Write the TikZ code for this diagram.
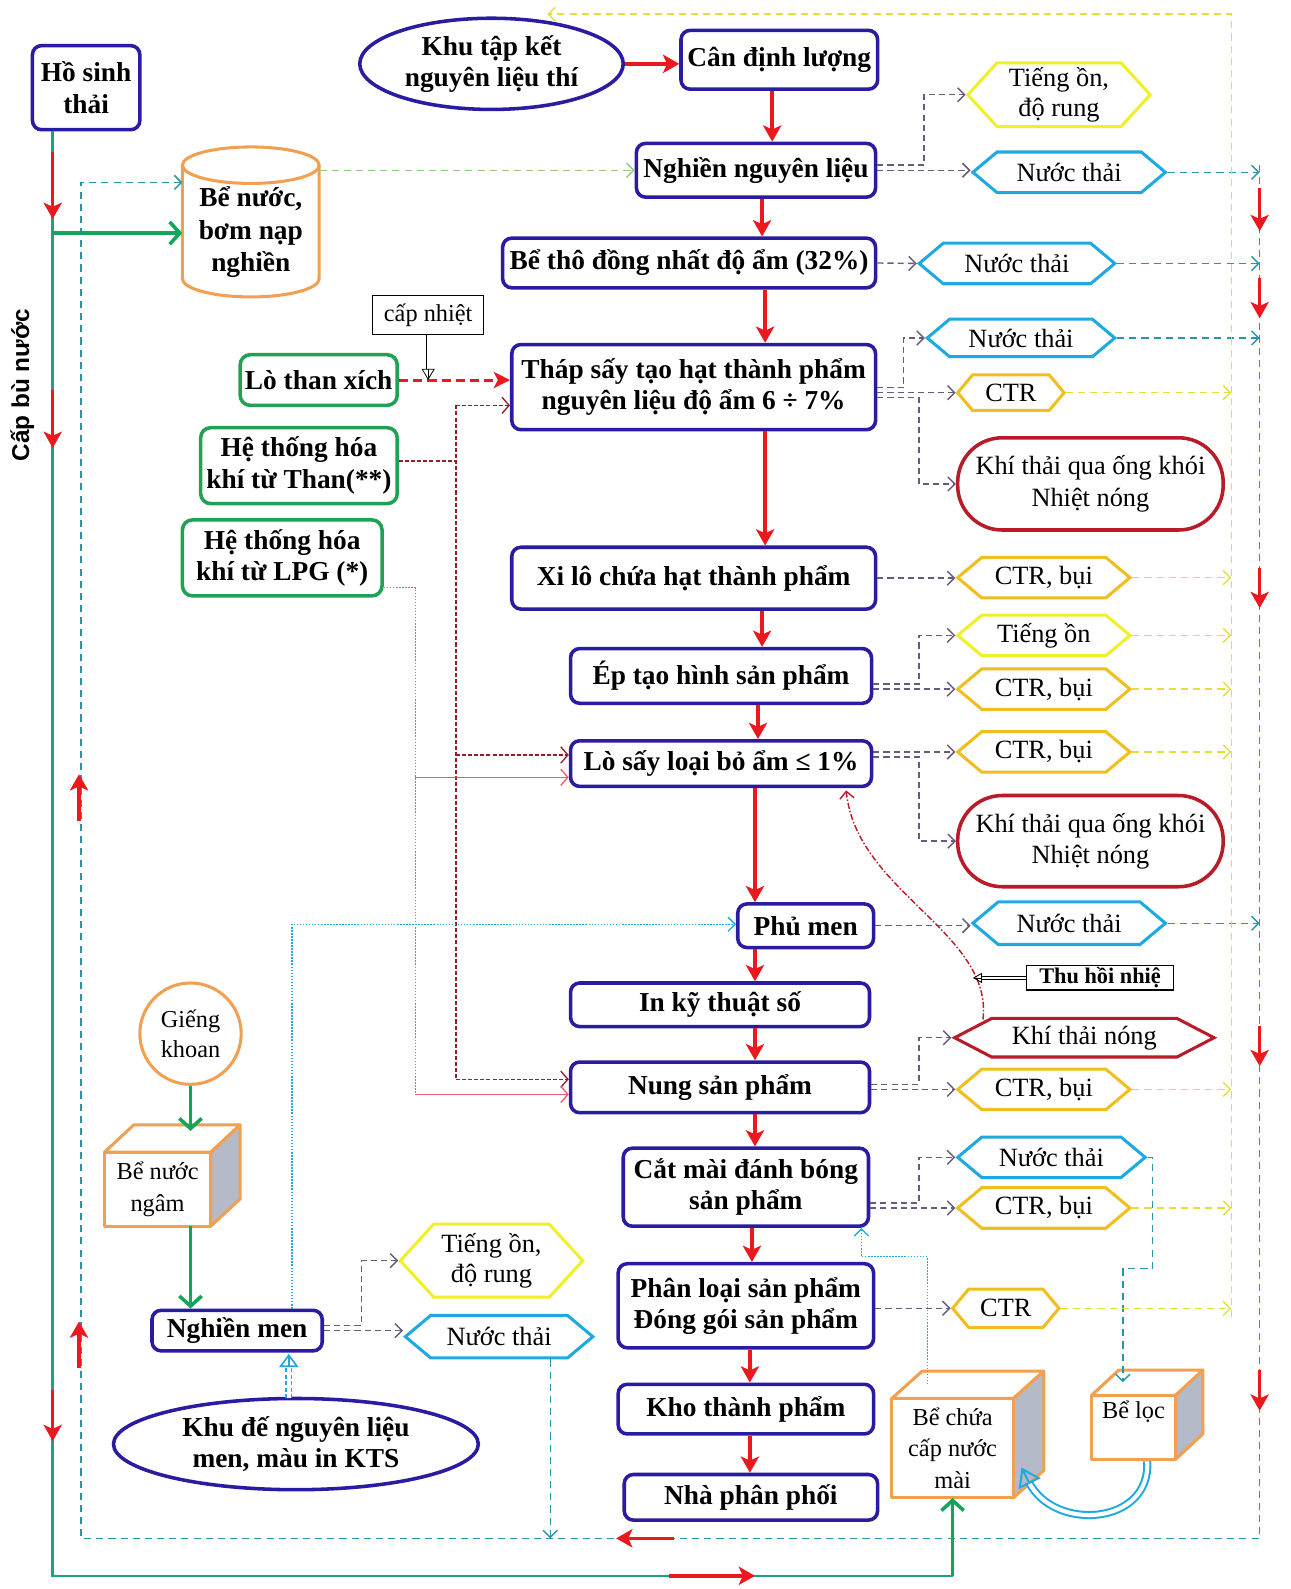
\documentclass[tikz,border=0pt]{standalone}
\usepackage{fontspec}
\setmainfont{Liberation Serif}
\setsansfont{Liberation Sans}
\usetikzlibrary{shapes.geometric,shapes.symbols,arrows.meta,calc}
\definecolor{nav}{RGB}{42,28,160}
\definecolor{grn}{RGB}{34,160,84}
\definecolor{cteal}{RGB}{30,160,130}
\definecolor{garrc}{RGB}{20,165,90}
\definecolor{org}{RGB}{240,160,80}
\definecolor{yel}{RGB}{240,240,40}
\definecolor{ctrc}{RGB}{240,190,30}
\definecolor{cya}{RGB}{30,170,225}
\definecolor{dred}{RGB}{185,28,40}
\definecolor{rred}{RGB}{235,25,30}
\definecolor{gpur}{RGB}{105,90,125}
\definecolor{ydash}{RGB}{225,225,60}
\definecolor{cdash}{RGB}{40,150,170}
\definecolor{lgreen}{RGB}{150,200,130}
\definecolor{sidegray}{RGB}{180,186,200}
\definecolor{pinkc}{RGB}{235,90,110}
\definecolor{darkr}{RGB}{150,30,40}
\newcommand\cubeshape[6]{%
  \draw[cubeline] (#1,#2) -- ($(#1,#2)+(#5,#6)$) -- ($(#3,#2)+(#5,#6)$) -- (#3,#2) -- cycle;
  \draw[cubeline, fill=sidegray] (#3,#2) -- ($(#3,#2)+(#5,#6)$) -- ($(#3,#4)+(#5,#6)$) -- (#3,#4) -- cycle;
  \draw[cubeline] (#1,#2) rectangle (#3,#4);
}
\begin{document}
\begin{tikzpicture}[x=1pt,y=-1pt,
 mbox/.style={draw=nav, line width=3.5pt, rounded corners=9pt, fill=white, align=center, inner sep=1pt, font=\fontsize{27}{31}\selectfont\bfseries},
 gbox/.style={draw=grn, line width=3.5pt, rounded corners=10pt, fill=white, align=center, inner sep=1pt, font=\fontsize{27}{31}\selectfont\bfseries},
 hexa/.style={signal, signal to=east and west, signal pointer angle=80, line width=3pt, fill=white, align=center, inner sep=1pt, font=\fontsize{26}{29}\selectfont},
 yhex/.style={hexa, draw=yel},
 chex/.style={hexa, draw=cya},
 ohex/.style={hexa, draw=ctrc},
 rhex/.style={hexa, draw=dred},
 stad/.style={draw=dred, line width=3.5pt, rounded corners=44pt, fill=white, align=center, font=\fontsize{26}{31}\selectfont},
 cubeline/.style={draw=org, line width=3pt, fill=white, line join=round},
 plain/.style={align=center, inner sep=0pt, font=\fontsize{24}{31}\selectfont},
 rarr/.style={draw=rred, line width=3.5pt, -{Stealth[length=16pt,width=18pt,inset=4pt]}},
 gd/.style={draw=gpur, line width=1.4pt, dash pattern=on 6pt off 4pt, -{Straight Barb[length=7pt,width=14pt]}},
 cdl/.style={draw=cdash, line width=1.4pt, dash pattern=on 7pt off 5pt},
 cd/.style={cdl, -{Straight Barb[length=7pt,width=14pt]}},
 ydl/.style={draw=ydash, line width=1.4pt, dash pattern=on 7pt off 5pt},
 yd/.style={ydl, -{Straight Barb[length=7pt,width=14pt]}},
 gline/.style={draw=cteal, line width=2.5pt},
 garr/.style={draw=garrc, line width=3.5pt, -{Straight Barb[length=10pt,width=22pt]}},
 drl/.style={draw=darkr, line width=1.3pt, dash pattern=on 4pt off 2pt},
 dra/.style={drl, -{Straight Barb[length=7pt,width=16pt]}},
 pdl/.style={draw=pinkc, line width=1.3pt, dash pattern=on 1.5pt off 1.5pt},
 pda/.style={draw=pinkc, line width=1.3pt, -{Straight Barb[length=7pt,width=16pt]}},
 cdot/.style={draw=cya, line width=1.3pt, dash pattern=on 1.5pt off 1.5pt},
 cdota/.style={cdot, -{Straight Barb[length=7pt,width=14pt]}},
]
\fill[white] (0,0) rectangle (1273,1568);
\useasboundingbox (0,0) rectangle (1273,1568);

% ---------- main column ----------
\node[mbox, ellipse, minimum width=260, minimum height=90] (khu) at (485,63) {Khu tập kết\\nguyên liệu thí};
\node[mbox, minimum width=194, minimum height=58] (cdl) at (769,59) {Cân định lượng};
\node[mbox, minimum width=236, minimum height=53] (ngl) at (746,168) {Nghiền nguyên liệu};
\node[mbox, minimum width=368, minimum height=49] (bth) at (680,259.5) {Bể thô đồng nhất độ ẩm (32\%)};
\node[mbox, minimum width=359, minimum height=84] (thap) at (684.5,382) {Tháp sấy tạo hạt thành phẩm\\nguyên liệu độ ẩm 6 ÷ 7\%};
\node[mbox, minimum width=359, minimum height=61] (xilo) at (684.5,570.5) {Xi lô chứa hạt thành phẩm};
\node[mbox, minimum width=297, minimum height=54] (ep) at (711.5,667) {Ép tạo hình sản phẩm};
\node[mbox, minimum width=297, minimum height=45] (losay) at (711.5,753.5) {Lò sấy loại bỏ ẩm ≤ 1\%};
\node[mbox, minimum width=134, minimum height=43] (phu) at (795,913.5) {Phủ men};
\node[mbox, minimum width=295, minimum height=43] (inkts) at (710.5,991.5) {In kỹ thuật số};
\node[mbox, minimum width=295, minimum height=50] (nung) at (710.5,1073) {Nung sản phẩm};
\node[mbox, minimum width=242, minimum height=77] (cat) at (736,1171.5) {Cắt mài đánh bóng\\sản phẩm};
\node[mbox, minimum width=252, minimum height=83] (phan) at (736,1288.5) {Phân loại sản phẩm\\Đóng gói sản phẩm};
\node[mbox, minimum width=252, minimum height=49] (kho) at (736,1390.5) {Kho thành phẩm};
\node[mbox, minimum width=250, minimum height=45] (nha) at (741,1477.5) {Nhà phân phối};

% ---------- left side ----------
\node[mbox, minimum width=106, minimum height=83] (hosinh) at (85,86.5) {Hồ sinh\\thải};
\draw[org, line width=3pt, fill=white] (180,163) -- (180,275) arc[start angle=180, end angle=0, x radius=67.5, y radius=18] -- (315,163) arc[start angle=0, end angle=-180, x radius=67.5, y radius=18] -- cycle;
\draw[org, line width=3pt] (180,163) arc[start angle=180, end angle=0, x radius=67.5, y radius=18];
\node[plain, font=\fontsize{27}{32}\selectfont\bfseries, minimum width=135, minimum height=112] (bnb) at (247.5,229) {Bể nước,\\bơm nạp\\nghiền};
\node[rotate=90, font=\sffamily\bfseries\fontsize{24}{28}\selectfont] (capbu) at (22,380) {Cấp bù nước};

\node[gbox, minimum width=155, minimum height=50] (lothan) at (314.5,375) {Lò than xích};
\node[gbox, minimum width=194, minimum height=75] (than) at (295,459.5) {Hệ thống hóa\\khí từ Than(**)};
\node[gbox, minimum width=197, minimum height=75] (lpg) at (278.5,550.5) {Hệ thống hóa\\khí từ LPG (*)};
\node[draw=black, line width=1pt, fill=white, minimum width=109, minimum height=38, inner sep=1pt, font=\fontsize{24}{28}\selectfont] (capn) at (422.5,311) {cấp nhiệt};

\node[circle, draw=org, line width=3pt, fill=white, minimum size=100, align=center, inner sep=0pt, font=\fontsize{24}{30}\selectfont] (gk) at (188,1020) {Giếng\\khoan};
\cubeshape{103}{1137}{208}{1210}{29}{-27}
\node[plain, minimum width=105, minimum height=73] (bnn) at (155.5,1173.5) {Bể nước\\ngâm};
\node[mbox, minimum width=168, minimum height=40] (nmen) at (234,1313) {Nghiền men};
\node[mbox, ellipse, minimum width=360, minimum height=90] (khude) at (292,1425) {Khu đế nguyên liệu\\men, màu in KTS};
\node[yhex, minimum width=180, minimum height=72, signal pointer angle=95] (tob) at (485,1244) {Tiếng ồn,\\độ rung};
\node[chex, minimum width=185, minimum height=42] (ntb) at (492.5,1319) {Nước thải};

% ---------- right side ----------
\node[yhex, minimum width=180, minimum height=63, signal pointer angle=95] (to1) at (1045,93.5) {Tiếng ồn,\\độ rung};
\node[chex, minimum width=190, minimum height=40] (nt1) at (1055,170) {Nước thải};
\node[chex, minimum width=193, minimum height=40] (nt2) at (1003.5,260) {Nước thải};
\node[chex, minimum width=185, minimum height=37] (nt3) at (1007.5,333.5) {Nước thải};
\node[ohex, minimum width=105, minimum height=35, signal pointer angle=100] (ctr1) at (997.5,387.5) {CTR};
\node[stad, minimum width=262, minimum height=91] (kt1) at (1076,477.5) {Khí thải qua ống khói\\Nhiệt nóng};
\node[ohex, minimum width=170, minimum height=40] (cb1) at (1030,570) {CTR, bụi};
\node[yhex, minimum width=170, minimum height=40] (to2) at (1030,627) {Tiếng ồn};
\node[ohex, minimum width=170, minimum height=40] (cb2) at (1030,680) {CTR, bụi};
\node[ohex, minimum width=170, minimum height=40] (cb3) at (1030,742) {CTR, bụi};
\node[stad, minimum width=262, minimum height=90] (kt2) at (1076,830) {Khí thải qua ống khói\\Nhiệt nóng};
\node[chex, minimum width=190, minimum height=42] (nt4) at (1055,911) {Nước thải};
\node[draw=black, line width=1.2pt, fill=white, minimum width=145, minimum height=24, inner sep=0pt, font=\fontsize{22}{24}\selectfont\bfseries] (thuhoi) at (1085.5,965) {Thu hồi nhiệ};
\node[rhex, minimum width=256, minimum height=38, signal pointer angle=55] (ktn) at (1070,1024) {Khí thải nóng};
\node[ohex, minimum width=170, minimum height=40] (cb4) at (1030,1075) {CTR, bụi};
\node[chex, minimum width=185, minimum height=40] (nt5) at (1037.5,1142) {Nước thải};
\node[ohex, minimum width=170, minimum height=40] (cb5) at (1030,1192) {CTR, bụi};
\node[ohex, minimum width=105, minimum height=38, signal pointer angle=100] (ctr2) at (992.5,1291) {CTR};

\cubeshape{880}{1380}{1000}{1478}{30}{-27}
\node[plain, minimum width=120, minimum height=98] (bcn) at (940,1429) {Bể chứa\\cấp nước\\mài};
\cubeshape{1077}{1377}{1160}{1440}{27}{-25}
\node[plain, minimum width=83, minimum height=63] (bloc) at (1118.5,1408.5) {};
\node[plain] (bloct) at (1118.5,1393) {Bể lọc};

% ---------- coordinates ----------
\coordinate (a1) at (762,0); \coordinate (a2) at (752,0); \coordinate (a3) at (755,0);
\coordinate (a4) at (752,0); \coordinate (a5) at (748,0); \coordinate (a6) at (745,0);
\coordinate (a7) at (742,0); \coordinate (a8) at (740,0);
\coordinate (rc) at (1243,163); \coordinate (rcb) at (1243,1518); \coordinate (lcb) at (80,1518);
\coordinate (cylin) at (180,180);
\coordinate (yc) at (1215,1300); \coordinate (yt) at (1215,14); \coordinate (ya) at (540,14);
\coordinate (tA) at (450,400); \coordinate (tB) at (450,745); \coordinate (tC) at (450,1065);
\coordinate (pA) at (410,580); \coordinate (pB) at (410,767); \coordinate (pC) at (410,1080);
\coordinate (mA) at (288,912);
\coordinate (bcTop) at (915,1366); \coordinate (bB) at (850,1240);
\coordinate (kA) at (970,1006); \coordinate (kB) at (835,780); \coordinate (kC) at (960,965);
\coordinate (L0) at (52,230); \coordinate (L1) at (52,1555); \coordinate (L2) at (940,1555);
\coordinate (ntbx) at (543,0);
\coordinate (blTop) at (1108,1364);
\coordinate (bnnT) at (188,1116);
\coordinate (kdA) at (285,1380); \coordinate (kdB) at (285,1336);

% ---------- main flow arrows ----------
\draw[rarr] (khu.east) -- (khu.east -| cdl.west);
\draw[rarr] (cdl.south -| a1) -- (ngl.north -| a1);
\draw[rarr] (ngl.south -| a2) -- (bth.north -| a2);
\draw[rarr] (bth.south -| a3) -- (thap.north -| a3);
\draw[rarr] (thap.south -| a3) -- (xilo.north -| a3);
\draw[rarr] (xilo.south -| a4) -- (ep.north -| a4);
\draw[rarr] (ep.south -| a5) -- (losay.north -| a5);
\draw[rarr] (losay.south -| a6) -- (phu.north -| a6);
\draw[rarr] (phu.south -| a6) -- (inkts.north -| a6);
\draw[rarr] (inkts.south -| a6) -- (nung.north -| a6);
\draw[rarr] (nung.south -| a6) -- (cat.north -| a6);
\draw[rarr] (cat.south -| a7) -- (phan.north -| a7);
\draw[rarr] (phan.south -| a8) -- (kho.north -| a8);
\draw[rarr] (kho.south -| a8) -- (nha.north -| a8);

% ---------- emissions (grey dashed) ----------
\draw[gd] (ngl.east) -- (ngl.east -| nt1.west);
\draw[gd] (ngl.east) ++(0,-5) -- ++(46,0) |- (to1.west);
\draw[gd] (bth.east) -- (nt2.west);
\draw[gd] (thap.east |- ctr1) -- (ctr1.west);
\draw[gd] (thap.east |- ctr1) ++(0,-5) -- ++(26,0) |- (nt3.west);
\draw[gd] (thap.east |- ctr1) ++(0,5) -- ++(41,0) |- (kt1.west);
\draw[gd] (xilo.east) -- (xilo.east -| cb1.west);
\draw[gd] (ep.east |- cb2) -- (cb2.west);
\draw[gd] (ep.east |- cb2) ++(0,-5) -- ++(45,0) |- (to2.west);
\draw[gd] (losay.east |- cb3) -- (cb3.west);
\draw[gd] (losay.east |- cb3) ++(0,5) -- ++(45,0) |- (kt2.west);
\draw[gd] (phu.east) -- (phu.east -| nt4.west);
\draw[gd] (nung.east |- cb4) -- (cb4.west);
\draw[gd] (nung.east |- cb4) ++(0,-5) -- ++(47,0) |- (ktn.west);
\draw[gd] (cat.east |- cb5) -- (cb5.west);
\draw[gd] (cat.east |- cb5) ++(0,-5) -- ++(48,0) |- (nt5.west);
\draw[gd] (phan.east |- ctr2) -- (ctr2.west);
\draw[gd] (nmen.east) -- (nmen.east -| ntb.west);
\draw[gd] (nmen.east) ++(0,-5) -- ++(37,0) |- (tob.west);

% ---------- water (cyan dashed) ----------
\draw[cd] (rc) -- (rcb) -- (lcb) |- (cylin);
\draw[cd] (nt1.east) -- (nt1.east -| rc);
\draw[cd] (nt2.east) -- (nt2.east -| rc);
\draw[cd] (nt3.east) -- (nt3.east -| rc);
\draw[cd] (nt4.east) -- (nt4.east -| rc);
\draw[cd] (ntb.south -| ntbx) -- (lcb -| ntbx);
\draw[cd] (nt5.east) -- ++(5,0) -- ++(0,110) -| (blTop);

% ---------- solid waste (yellow dashed) ----------
\draw[yd] (yc) -- (yt) -- (ya);
\foreach \n in {ctr1,cb1,to2,cb2,cb3,cb4,cb5,ctr2}{
  \draw[yd] (\n.east) -- (\n.east -| yc);
}

% ---------- fuel feeds ----------
\draw[draw=rred, line width=3pt, dash pattern=on 9pt off 5pt, -{Stealth[length=16pt,width=16pt,inset=4pt]}] (lothan.east) -- (lothan.east -| thap.west);
\draw[drl] (than.east |- 0,455) -- (tA |- 0,455);
\draw[drl] (tA) -- (tC);
\draw[dra] (tA) -- (tA -| thap.west);
\draw[dra] (tB) -- (tB -| losay.west);
\draw[dra] (tC) -- (tC -| nung.west);
\draw[pdl] (lpg.east |- pA) -- (pA) -- (pC);
\draw[pda] (pB) -- (pB -| losay.west);
\draw[pda] (pC) -- (pC -| nung.west);
% hollow arrow from "cấp nhiệt"
\draw[black, line width=0.8pt, double=white, double distance=3pt, shorten >=11pt] (capn.south) -- (capn.south |- lothan.east);
\draw[black, line width=0.8pt, -{Triangle[open, length=11pt, width=13pt]}] ($(capn.south |- lothan.east)+(0,-1)$) -- (capn.south |- lothan.east);

% ---------- glaze line ----------
\draw[cdota] (nmen.north -| mA) -- (mA) -- (mA -| phu.west);
\draw[cdota] (bcTop) |- (bB) -- (bB |- cat.south);
\draw[cya, line width=1.6pt, double=white, double distance=4pt, dash pattern=on 4pt off 2.5pt, shorten >=13pt] (kdA) -- (kdB);
\draw[cya, line width=1.6pt, -{Triangle[open, length=13pt, width=19pt]}] ($(kdB)+(0,1)$) -- (kdB);

% ---------- heat recovery ----------
\draw[draw=dred, line width=1.4pt, dash pattern=on 6pt off 2pt on 1.5pt off 2pt, -{Straight Barb[length=7pt,width=14pt]}] (kA) .. controls (980,920) and (845,880) .. (kB);
\draw[black, line width=0.8pt, double=white, double distance=2.5pt, shorten >=9pt] (thuhoi.west) -- (kC);
\draw[black, line width=0.8pt, -{Triangle[open, length=9pt, width=10pt]}] ($(kC)+(1,0)$) -- (kC);

% ---------- green water lines ----------
\draw[gline] (hosinh.south -| L1) -- (L1) -- (L2);
\draw[garr] (L2) -- (bcn.south);
\draw[garr] (L0) -- (L0 -| bnb.west);
\draw[garr] (gk.south) -- (bnnT);
\draw[garr] (bnn.south -| gk.south) -- (nmen.north -| gk.south);
\draw[draw=lgreen, line width=1.4pt, dash pattern=on 7pt off 5pt, -{Straight Barb[length=7pt,width=14pt]}] (bnb.east |- ngl.west) -- (ngl.west);

% ---------- filter loop ----------
\draw[cya, line width=2pt, double=white, double distance=4pt, shorten >=16pt] (1132,1442) .. controls (1136,1505) and (1040,1512) .. (1008,1448);
\draw[cya, line width=2pt, -{Triangle[open, length=18pt, width=24pt]}] (1009,1450) -- (1008,1448);

% ---------- direction markers ----------
\draw[rarr] (52,150) -- (52,216);
\draw[rarr] (52,385) -- (52,442);
\draw[rarr] (52,1372) -- (52,1422);
\draw[rarr] (78,810) -- (78,764);
\draw[rarr] (78,1350) -- (78,1304);
\draw[rarr] (1243,186) -- (1243,228);
\draw[rarr] (1243,274) -- (1243,314);
\draw[rarr] (1243,560) -- (1243,600);
\draw[rarr] (1243,1012) -- (1243,1052);
\draw[rarr] (1243,1352) -- (1243,1392);
\draw[rarr] (665,1518) -- (608,1518);
\draw[rarr] (660,1555) -- (745,1555);
\end{tikzpicture}
\end{document}
